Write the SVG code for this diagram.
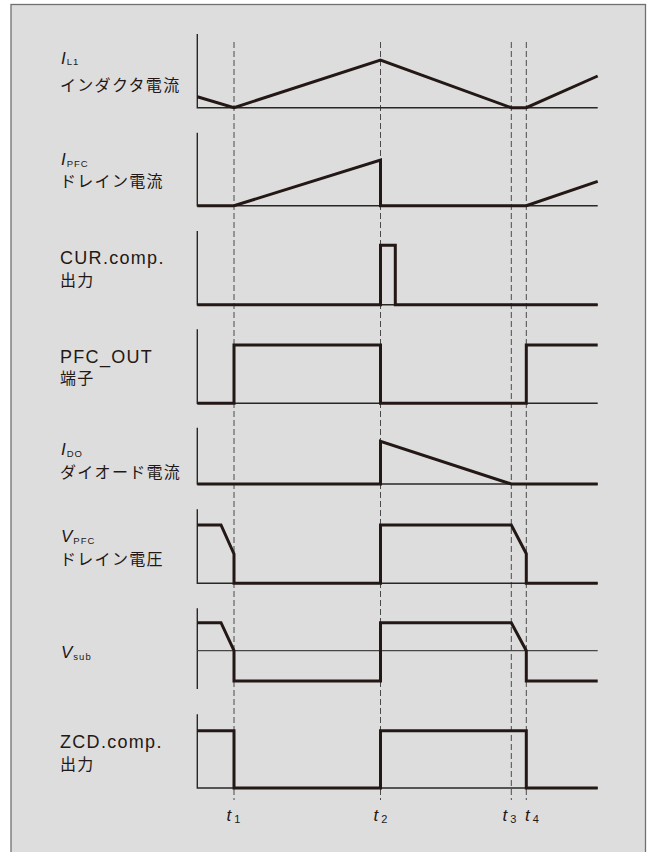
<svg xmlns="http://www.w3.org/2000/svg" width="647" height="852" viewBox="0 0 647 852">
<style>
.frame{fill:#dddddd;stroke:#707070;stroke-width:1.3}
.axis{fill:none;stroke:#2a2624;stroke-width:1.4}
.base{fill:none;stroke:#4a4644;stroke-width:1.2}
.wave{fill:none;stroke:#231815;stroke-width:3;stroke-linejoin:miter;stroke-linecap:butt}
.dash{fill:none;stroke:#4a4a4a;stroke-width:1;stroke-dasharray:6 3}
.jp{font-family:"Noto Sans CJK JP","Noto Sans",sans-serif;font-size:16px;letter-spacing:1.3px;fill:#231815}
.lat{font-family:"Liberation Sans",Arial,sans-serif;font-size:18px;letter-spacing:1.3px;fill:#231815}
.sym{font-family:"Liberation Sans",Arial,sans-serif;font-size:17px;font-style:italic;fill:#231815}
.sub{font-family:"Liberation Sans",Arial,sans-serif;font-size:9.5px;letter-spacing:1px;fill:#231815;font-style:normal}
.tsub{font-family:"Liberation Sans",Arial,sans-serif;font-size:11px;font-style:normal;fill:#231815}
</style>
<rect x="0" y="0" width="647" height="852" fill="#ffffff"/>
<rect class="frame" x="11" y="4.5" width="634.5" height="860"/>

<g id="connectors">
<line class="dash" x1="234" y1="42" x2="234" y2="800"/>
<line class="dash" x1="380.5" y1="42" x2="380.5" y2="800"/>
<line class="dash" x1="511.3" y1="42" x2="511.3" y2="800"/>
<line class="dash" x1="526.3" y1="42" x2="526.3" y2="800"/>
</g>

<g id="panel-IL1">
<text class="sym" x="61" y="63.5">I<tspan class="sub" dx="1" dy="1">L1</tspan></text>
<text class="jp" x="60" y="91">インダクタ電流</text>
<polyline class="axis" points="197.3,34 197.3,107.7 597.7,107.7"/>
<polyline class="wave" points="197.3,96.7 234,107.7 380.5,60 511.3,107.7 526.3,107.7 597.7,76"/>
</g>

<g id="panel-IPFC">
<text class="sym" x="61" y="165">I<tspan class="sub" dx="1" dy="1.5">PFC</tspan></text>
<text class="jp" x="60" y="187">ドレイン電流</text>
<polyline class="axis" points="197.3,132.7 197.3,205.7 597.7,205.7"/>
<polyline class="wave" points="197.3,205.7 234,205.7 380.5,160 380.5,205.7 526.3,205.7 597.7,181.3"/>
</g>

<g id="panel-CUR">
<text class="lat" x="60" y="264">CUR.comp.</text>
<text class="jp" x="60" y="285.5">出力</text>
<polyline class="axis" points="197.3,231 197.3,304.7 597.7,304.7"/>
<polyline class="wave" points="197.3,304.7 380.5,304.7 380.5,245.3 395.3,245.3 395.3,304.7 597.7,304.7"/>
</g>

<g id="panel-PFCOUT">
<text class="lat" x="60" y="362.5">PFC_OUT</text>
<text class="jp" x="60" y="384">端子</text>
<polyline class="axis" points="197.3,329.3 197.3,403.3 597.7,403.3"/>
<polyline class="wave" points="197.3,403.3 234,403.3 234,345 380.5,345 380.5,403.3 526.3,403.3 526.3,345 597.7,345"/>
</g>

<g id="panel-IDO">
<text class="sym" x="61" y="455">I<tspan class="sub" dx="1" dy="1.5">DO</tspan></text>
<text class="jp" x="60" y="477.5">ダイオード電流</text>
<polyline class="axis" points="197.3,427.7 197.3,484 597.7,484"/>
<polyline class="wave" points="197.3,484 380.5,484 380.5,441.3 511.3,484 597.7,484"/>
</g>

<g id="panel-VPFC">
<text class="sym" x="61" y="541.7">V<tspan class="sub" dx="1" dy="2.5">PFC</tspan></text>
<text class="jp" x="60" y="564.5">ドレイン電圧</text>
<polyline class="axis" points="197.3,509.3 197.3,583.3 597.7,583.3"/>
<polyline class="wave" points="197.3,525 221,525 234,554 234,583.3 380.5,583.3 380.5,525 511.3,525 526.3,553.7 526.3,583.3 597.7,583.3"/>
</g>

<g id="panel-Vsub">
<text class="sym" x="61" y="657.5">V<tspan class="sub" dx="1" dy="2.5">sub</tspan></text>
<line class="axis" x1="197.3" y1="608.3" x2="197.3" y2="689"/>
<line class="base" x1="197.3" y1="650.7" x2="597.7" y2="650.7"/>
<polyline class="wave" points="197.3,622.7 221,622.7 234,650.7 234,681 380.5,681 380.5,622.7 511.3,622.7 526.3,650.7 526.3,681 597.7,681"/>
</g>

<g id="panel-ZCD">
<text class="lat" x="60" y="747.7">ZCD.comp.</text>
<text class="jp" x="60" y="769.5">出力</text>
<polyline class="axis" points="197.3,714.3 197.3,788 597.7,788"/>
<polyline class="wave" points="197.3,730.7 234,730.7 234,788 380.5,788 380.5,730.7 526.3,730.7 526.3,788 597.7,788"/>
</g>

<g id="time-labels">
<text class="sym" x="226.5" y="821">t<tspan class="tsub" dx="3" dy="1.5">1</tspan></text>
<text class="sym" x="373.5" y="821">t<tspan class="tsub" dx="3" dy="1.5">2</tspan></text>
<text class="sym" x="502.5" y="821">t<tspan class="tsub" dx="3" dy="1.5">3</tspan></text>
<text class="sym" x="525" y="821">t<tspan class="tsub" dx="3" dy="1.5">4</tspan></text>
</g>
</svg>
